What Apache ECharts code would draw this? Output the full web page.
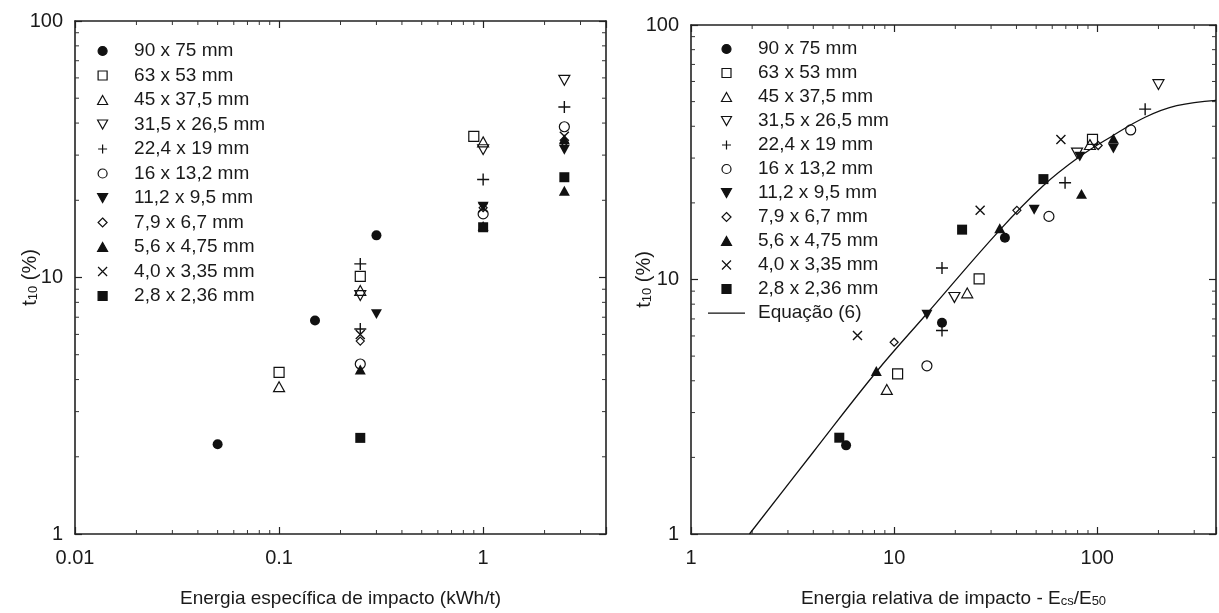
<!DOCTYPE html>
<html><head><meta charset="utf-8">
<script src="https://cdn.jsdelivr.net/npm/echarts@6/dist/echarts.min.js"></script>
<style>html,body{margin:0;padding:0;background:#fff}#c{width:1219px;height:613px}</style>
</head><body><div id="c"></div>
<script>
// ---------------- data ----------------
const sizeClasses = ['90 x 75 mm','63 x 53 mm','45 x 37,5 mm','31,5 x 26,5 mm','22,4 x 19 mm','16 x 13,2 mm','11,2 x 9,5 mm','7,9 x 6,7 mm','5,6 x 4,75 mm','4,0 x 3,35 mm','2,8 x 2,36 mm'];
const curveName = 'Equação (6)';

// Left: specific impact energy (kWh/t) vs t10 (%)
const L_90x75   = [[0.05,2.24],[0.15,6.8],[0.3,14.6]];
const L_63x53   = [[0.1,4.27],[0.25,10.1],[0.9,35.5]];
const L_45x375  = [[0.1,3.75],[0.25,8.9],[1,33.8]];
const L_315x265 = [[0.25,8.5],[1,31.5],[2.5,58.7]];
const L_224x19  = [[0.25,11.3],[0.25,6.3],[1,24.1],[2.5,46.2]];
const L_16x132  = [[0.25,4.6],[1,17.7],[2.5,38.7]];
const L_112x95  = [[0.3,7.2],[1,18.9],[2.5,31.5]];
const L_79x67   = [[0.25,5.65],[1,18.7],[2.5,33.6]];
const L_56x475  = [[0.25,4.38],[1,15.9],[2.5,21.8],[2.5,34.6]];
const L_40x335  = [[0.25,6.0],[1,18.7],[2.5,35.5]];
const L_28x236  = [[0.25,2.37],[1,15.7],[2.5,24.6]];

// Right: relative impact energy Ecs/E50 vs t10 (%)
const R_90x75   = [[5.8,2.23],[17.2,6.76],[35.1,14.6]];
const R_63x53   = [[10.4,4.26],[26.2,10.05],[94.7,35.5]];
const R_45x375  = [[9.2,3.7],[22.9,8.86],[92,33.9]];
const R_315x265 = [[19.8,8.5],[79.5,31.4],[200,58.3]];
const R_224x19  = [[17.2,11.1],[17.2,6.3],[69.4,24.0],[172,46.7]];
const R_16x132  = [[14.5,4.58],[57.8,17.7],[146,38.7]];
const R_112x95  = [[14.5,7.27],[48.9,18.8],[82,30.4],[120,32.7]];
const R_79x67   = [[10,5.67],[40.2,18.7],[101,33.6]];
const R_56x475  = [[8.17,4.37],[33.1,15.9],[83.6,21.7],[120,35.8]];
const R_40x335  = [[6.6,6.02],[26.5,18.7],[66.2,35.5]];
const R_28x236  = [[5.37,2.39],[21.6,15.7],[54.3,24.8]];

// Equação (6) curve
const eqE = [1.94, 4, 8.2, 14.4, 33, 54, 81, 117, 173, 246, 384];
const eqT = [1.0, 2.1, 4.35, 7.3, 15.6, 23.3, 30.2, 36.4, 43.5, 48.2, 50.6];

// axis ranges and titles
const leftX = [0.01, 4], leftY = [1, 100];
const rightX = [1, 384], rightY = [1, 100];
const xTitleLeft = 'Energia específica de impacto (kWh/t)';
const xTitleRight = 'Energia relativa de impacto - E{sub|cs}/E{sub|50}';
const yTitle = 't{sub|10} (%)';

// ---------------- styling ----------------
const leftData = [L_90x75,L_63x53,L_45x375,L_315x265,L_224x19,L_16x132,L_112x95,L_79x67,L_56x475,L_40x335,L_28x236];
const rightData = [R_90x75,R_63x53,R_45x375,R_315x265,R_224x19,R_16x132,R_112x95,R_79x67,R_56x475,R_40x335,R_28x236];
const SQ = 'path://M0,0L10,0L10,10L0,10Z';
const TUP = 'path://M5,0L10,9L0,9Z';
const TDN = 'path://M0,0L10,0L5,9Z';
const DIA = 'path://M5,0L10,5L5,10L0,5Z';
const PLUS = 'path://M5,0L5,10M0,5L10,5';
const CROSS = 'path://M0,0L10,10M10,0L0,10';
const LINEICON = 'path://M0,0L0,0M0,3.9L37,3.9L37,5.2L0,5.2ZM37,9L37,9';
const CLEAR = 'rgba(0,0,0,0)';
const INK = '#111';
const sty = [
  {s:'circle', z:10, f:INK, b:0},
  {s:SQ, z:10, f:CLEAR, b:1.2},
  {s:TUP, z:11, f:CLEAR, b:1.2},
  {s:TDN, z:11, f:CLEAR, b:1.2},
  {s:PLUS, z:12, f:INK, b:1.4},
  {s:'circle', z:10, f:CLEAR, b:1.2},
  {s:TDN, z:11, f:INK, b:0},
  {s:DIA, z:8, f:CLEAR, b:1.2},
  {s:TUP, z:11, f:INK, b:0},
  {s:CROSS, z:9, f:INK, b:1.4},
  {s:SQ, z:10, f:INK, b:0}
];
const FONT = '"Liberation Sans", Arial, sans-serif';
const TXT = '#1a1a1a';

function decadeLabel(v){
  const l = Math.log10(v);
  if (Math.abs(l - Math.round(l)) > 1e-6) return '';
  return String(+Math.pow(10, Math.round(l)).toPrecision(6));
}
function minorValues(r){
  const out = [];
  for (let k = Math.floor(Math.log10(r[0])); k <= Math.ceil(Math.log10(r[1])); k++)
    for (let m = 2; m <= 9; m++){ const v = +(m*Math.pow(10,k)).toPrecision(6); if (v > r[0] && v < r[1]) out.push(v); }
  return out;
}
function tickRenderer(xr, yr, L){
  return function(params, api){
    const kind = api.value(2);
    let segs;
    if (kind === 0){
      const v = api.value(0);
      const b = api.coord([v, yr[0]]), t = api.coord([v, yr[1]]);
      segs = [[b[0],b[1],b[0],b[1]-L],[t[0],t[1],t[0],t[1]+L]];
    } else {
      const v = api.value(1);
      const l = api.coord([xr[0], v]), r = api.coord([xr[1], v]);
      segs = [[l[0],l[1],l[0]+L,l[1]],[r[0],r[1],r[0]-L,r[1]]];
    }
    return {type:'group', children: segs.map(s => ({type:'line', shape:{x1:s[0],y1:s[1],x2:s[2],y2:s[3]}, style:{stroke:'#333', lineWidth:1}}))};
  };
}
function minorSeries(xr, yr, xi, yi){
  const data = minorValues(xr).map(v => [v, yr[0], 0]).concat(minorValues(yr).map(v => [xr[0], v, 1]));
  return {type:'custom', xAxisIndex:xi, yAxisIndex:yi, silent:true, clip:false, z:1,
    renderItem: tickRenderer(xr, yr, 4), data: data, encode:{x:0, y:1}};
}
function axisCommon(){
  return {
    axisLine:{show:true, onZero:false, lineStyle:{color:'#222', width:1.6}},
    axisTick:{show:true, inside:true, length:7, lineStyle:{color:'#222', width:1.2}},
    splitLine:{show:false}
  };
}
const subStyle = {fontSize:13, fontFamily:FONT, color:TXT, verticalAlign:'bottom', lineHeight:13, padding:[10,0,0,0]};
function xAxes(range, grid, name, nameGap){
  return [
    Object.assign(axisCommon(), {type:'log', logBase:10, gridIndex:grid, position:'bottom', min:range[0], max:range[1],
      axisLabel:{formatter:decadeLabel, fontSize:20, fontFamily:FONT, color:TXT, margin:14},
      name:name, nameLocation:'middle', nameGap:nameGap, nameMoveOverlap:false,
      nameTextStyle:{fontSize:19, fontFamily:FONT, color:TXT, rich:{sub:subStyle}}}),
    Object.assign(axisCommon(), {type:'log', logBase:10, gridIndex:grid, position:'top', min:range[0], max:range[1], axisLabel:{show:false}})
  ];
}
function yAxes(range, grid, nameGap){
  return [
    Object.assign(axisCommon(), {type:'log', logBase:10, gridIndex:grid, position:'left', min:range[0], max:range[1],
      axisLabel:{formatter:decadeLabel, fontSize:20, fontFamily:FONT, color:TXT, margin:12},
      name:yTitle, nameLocation:'middle', nameGap:nameGap, nameRotate:90, nameMoveOverlap:false,
      nameTextStyle:{fontSize:20, fontFamily:FONT, color:TXT, rich:{sub:subStyle}}}),
    Object.assign(axisCommon(), {type:'log', logBase:10, gridIndex:grid, position:'right', min:range[0], max:range[1], axisLabel:{show:false}})
  ];
}

const series = [];
function addScatter(dataSets, xi, yi){
  dataSets.forEach((d, i) => {
    const st = sty[i];
    series.push({type:'scatter', name:sizeClasses[i], xAxisIndex:xi, yAxisIndex:yi, data:d,
      symbol:st.s, symbolSize:st.z, symbolKeepAspect:true, z:3+i*0.01,
      itemStyle:{color:st.f, borderColor:INK, borderWidth:st.b, opacity:1}});
  });
}
addScatter(leftData, 0, 0);
addScatter(rightData, 2, 2);
series.push({type:'line', name:curveName, xAxisIndex:2, yAxisIndex:2, data:eqE.map((e,i)=>[e,eqT[i]]),
  smooth:0.4, symbol:'none', showSymbol:false, lineStyle:{color:INK, width:1.3}, itemStyle:{color:INK}, z:2});
series.push(minorSeries(leftX, leftY, 0, 0));
series.push(minorSeries(rightX, rightY, 2, 2));

const legendText = {fontSize:19, fontFamily:FONT, color:TXT, lineHeight:20};
const option = {
  animation:false,
  backgroundColor:'#fff',
  grid:[
    {left:75, top:21, width:531, height:518},
    {left:691, top:25, width:527, height:515}
  ],
  xAxis: xAxes(leftX, 0, xTitleLeft, 55).concat(xAxes(rightX, 1, xTitleRight, 55)),
  yAxis: yAxes(leftY, 0, 35).concat(yAxes(rightY, 1, 37)),
  legend:[
    {data:sizeClasses, orient:'vertical', left:92, top:36, itemWidth:37, itemHeight:9, itemGap:4.5,
      selectedMode:false, textStyle:Object.assign({padding:[0,0,0,8]}, legendText),
      itemStyle:{borderWidth:1.2}},
    {data:sizeClasses.concat([{name:curveName, icon:LINEICON, itemStyle:{borderWidth:0, color:INK}}]),
      orient:'vertical', left:703, top:34, itemWidth:37, itemHeight:9, itemGap:4,
      selectedMode:false, textStyle:Object.assign({padding:[0,0,0,8]}, legendText),
      itemStyle:{borderWidth:1.2}}
  ],
  series:series
};
const chart = echarts.init(document.getElementById('c'), null, {renderer:'canvas'});
chart.setOption(option);
</script>
</body></html>
